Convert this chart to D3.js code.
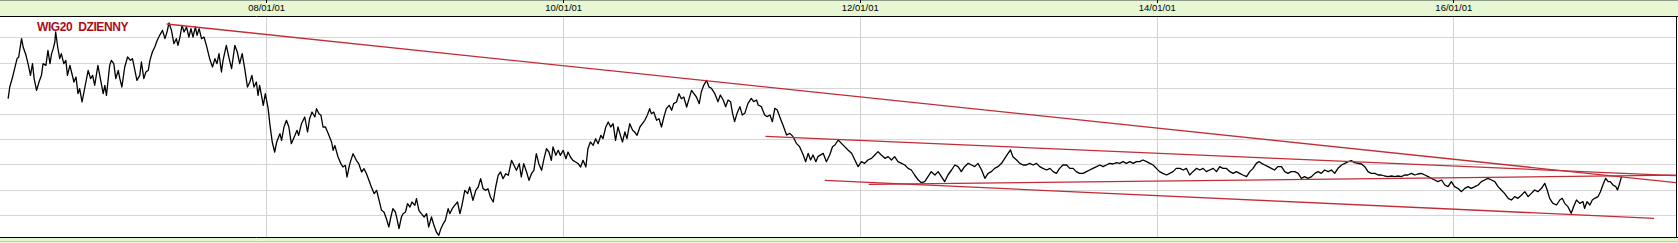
<!DOCTYPE html>
<html>
<head>
<meta charset="utf-8">
<script src="https://cdn.jsdelivr.net/npm/d3@7"></script>
<style>
  html, body { margin: 0; padding: 0; background: #fff; overflow: hidden; }
  svg { display: block; }
</style>
</head>
<body>
<div id="chart"></div>
<script>
// WIG20 daily chart with trend lines

const title = "WIG20  DZIENNY";

// first session of the series, offsets below are in calendar days from it
const firstSession = "2006-04-06";

// [day offset, close]
const quotes = [
  [0,2948],[4,3088],[11,3208],[16,3308],[22,3428],[26,3448],[33,3668],[37,3568],[44,3468],[49,3368],
  [55,3228],[60,3368],[64,3188],[70,3048],[76,3148],[82,3228],[86,3368],[93,3348],[98,3528],[103,3368],
  [107,3488],[111,3548],[115,3628],[117,3748],[122,3568],[127,3428],[131,3488],[137,3368],[142,3408],[146,3228],
  [152,3348],[156,3268],[162,3148],[167,3208],[172,3008],[176,3068],[182,2908],[189,3088],[197,3288],[203,3188],
  [208,3228],[213,3108],[221,3348],[227,3188],[234,3008],[238,3108],[242,2988],[250,3348],[254,3408],[260,3368],
  [265,3188],[271,3288],[275,3188],[280,3088],[287,3328],[294,3448],[301,3408],[306,3428],[312,3288],[317,3168],
  [324,3228],[328,3388],[334,3188],[339,3268],[345,3288],[349,3408],[355,3508],[361,3568],[367,3648],[373,3708],
  [380,3768],[386,3668],[391,3748],[396,3856],[402,3768],[408,3608],[414,3668],[418,3588],[423,3688],[428,3828],
  [433,3748],[439,3808],[445,3688],[450,3788],[455,3688],[461,3808],[465,3708],[470,3788],[476,3668],[482,3688],
  [488,3588],[496,3428],[503,3328],[509,3428],[514,3368],[519,3488],[525,3268],[529,3408],[537,3588],[544,3428],
  [550,3308],[558,3588],[564,3508],[570,3368],[576,3488],[583,3288],[589,3088],[595,3148],[600,3228],[605,3088],
  [611,3148],[615,2988],[619,3108],[628,2868],[633,3008],[640,2828],[644,2648],[650,2428],[656,2308],[661,2428],
  [669,2528],[673,2448],[679,2608],[685,2688],[691,2608],[697,2408],[706,2508],[711,2568],[715,2508],[722,2648],
  [730,2728],[737,2548],[742,2708],[748,2788],[755,2728],[759,2828],[765,2768],[770,2748],[775,2608],[781,2608],
  [788,2528],[796,2428],[800,2328],[804,2388],[812,2248],[819,2168],[824,2128],[830,2148],[834,2008],[841,2168],
  [849,2288],[857,2208],[863,2168],[870,2068],[876,2108],[882,2048],[888,1968],[894,1888],[901,1808],[907,1848],
  [912,1748],[919,1608],[925,1588],[931,1508],[937,1408],[942,1528],[947,1628],[953,1588],[957,1508],[962,1388],
  [968,1528],[972,1568],[978,1588],[983,1688],[989,1648],[994,1708],[1001,1668],[1005,1748],[1011,1608],[1017,1568],
  [1024,1528],[1030,1568],[1035,1408],[1042,1528],[1048,1428],[1054,1348],[1060,1308],[1065,1388],[1071,1448],[1076,1488],
  [1083,1628],[1087,1568],[1093,1628],[1099,1668],[1106,1708],[1112,1568],[1117,1668],[1124,1848],[1131,1808],[1136,1888],
  [1144,1728],[1151,1848],[1157,1888],[1163,1988],[1169,1868],[1176,1848],[1181,1868],[1187,1768],[1194,1708],[1200,1888],
  [1206,2028],[1212,2068],[1218,1988],[1225,2048],[1231,2028],[1239,2208],[1245,2148],[1251,2088],[1258,2168],[1263,2008],
  [1269,2168],[1276,2068],[1282,1968],[1288,2048],[1294,2088],[1300,2288],[1306,2168],[1313,2088],[1318,2208],[1325,2348],
  [1331,2308],[1337,2208],[1341,2368],[1348,2268],[1354,2328],[1359,2268],[1366,2328],[1373,2228],[1378,2308],[1384,2248],
  [1390,2208],[1397,2188],[1403,2168],[1409,2128],[1415,2208],[1422,2128],[1427,2348],[1433,2428],[1440,2388],[1446,2468],
  [1452,2408],[1459,2508],[1464,2468],[1471,2608],[1477,2668],[1483,2608],[1489,2648],[1495,2448],[1501,2608],[1507,2508],
  [1512,2428],[1518,2548],[1523,2468],[1530,2648],[1537,2568],[1542,2548],[1548,2508],[1555,2608],[1561,2648],[1567,2688],
  [1573,2748],[1579,2828],[1583,2768],[1589,2788],[1596,2688],[1602,2708],[1608,2608],[1614,2728],[1620,2828],[1627,2868],
  [1633,2808],[1638,2888],[1645,2908],[1651,3008],[1657,2948],[1663,2968],[1670,2848],[1676,2948],[1682,3048],[1688,3008],
  [1694,2968],[1701,2888],[1706,3028],[1712,3108],[1719,3168],[1725,3088],[1731,3072],[1739,3012],[1747,2912],[1753,2992],
  [1760,2932],[1766,2852],[1772,2932],[1778,2912],[1783,2772],[1788,2672],[1794,2772],[1801,2852],[1807,2752],[1813,2772],
  [1821,2892],[1829,2952],[1835,2912],[1842,2932],[1846,2872],[1854,2852],[1862,2752],[1868,2732],[1875,2752],[1881,2672],
  [1887,2832],[1893,2812],[1899,2732],[1907,2632],[1916,2512],[1924,2532],[1932,2492],[1940,2412],[1948,2372],[1957,2272],
  [1963,2192],[1969,2292],[1975,2212],[1981,2272],[1988,2192],[1993,2252],[2006,2292],[2014,2192],[2022,2272],[2029,2372],
  [2035,2392],[2043,2452],[2051,2412],[2059,2372],[2067,2332],[2076,2292],[2084,2212],[2092,2132],[2100,2192],[2108,2172],
  [2116,2212],[2125,2232],[2133,2272],[2141,2312],[2149,2272],[2158,2232],[2166,2252],[2174,2212],[2182,2252],[2190,2192],
  [2199,2172],[2207,2152],[2215,2112],[2223,2092],[2231,2032],[2240,1972],[2248,1940],[2256,1952],[2264,2012],[2272,2072],
  [2281,2032],[2289,2072],[2297,2012],[2305,1952],[2313,2032],[2322,2092],[2330,2152],[2338,2132],[2346,2072],[2354,2132],
  [2363,2172],[2371,2152],[2379,2132],[2387,2172],[2396,2092],[2404,1992],[2412,2052],[2420,2072],[2428,2112],[2436,2132],
  [2445,2172],[2453,2232],[2461,2292],[2467,2332],[2473,2252],[2482,2212],[2490,2172],[2498,2152],[2506,2152],[2514,2172],
  [2523,2152],[2531,2172],[2539,2132],[2547,2112],[2556,2092],[2564,2112],[2572,2072],[2580,2052],[2588,2112],[2596,2152],
  [2605,2152],[2613,2112],[2621,2112],[2629,2072],[2637,2052],[2646,2052],[2654,2072],[2662,2092],[2670,2112],[2679,2132],
  [2687,2152],[2695,2132],[2703,2152],[2711,2172],[2719,2164],[2728,2180],[2736,2172],[2744,2192],[2752,2172],[2761,2192],
  [2769,2172],[2777,2192],[2785,2192],[2793,2212],[2802,2192],[2810,2172],[2818,2152],[2826,2112],[2834,2072],[2842,2052],
  [2851,2032],[2859,2052],[2867,2072],[2875,2112],[2884,2112],[2892,2092],[2900,2112],[2908,2032],[2916,2072],[2925,2112],
  [2933,2092],[2941,2112],[2949,2072],[2957,2092],[2966,2112],[2974,2072],[2982,2132],[2990,2112],[2998,2112],[3007,2072],
  [3015,2052],[3023,2072],[3031,2052],[3039,2032],[3048,2012],[3056,2072],[3064,2112],[3072,2172],[3079,2192],[3085,2172],
  [3093,2152],[3101,2132],[3109,2112],[3117,2092],[3125,2132],[3134,2132],[3142,2072],[3150,2052],[3158,2072],[3167,2072],
  [3175,2052],[3183,1992],[3191,2012],[3199,1992],[3208,2012],[3216,2052],[3224,2072],[3232,2052],[3240,2092],[3249,2072],
  [3257,2092],[3265,2052],[3273,2112],[3282,2152],[3290,2172],[3298,2192],[3306,2204],[3314,2180],[3322,2172],[3331,2164],
  [3339,2132],[3347,2072],[3355,2052],[3364,2052],[3372,2032],[3380,2032],[3388,2020],[3396,2012],[3405,2020],[3413,2012],
  [3421,2020],[3429,2012],[3437,2032],[3445,2032],[3454,2052],[3462,2032],[3470,2044],[3478,2052],[3487,2032],[3495,2012],
  [3503,1992],[3511,1972],[3519,1952],[3528,1972],[3536,1912],[3544,1892],[3552,1952],[3560,1892],[3568,1872],[3577,1832],
  [3585,1872],[3593,1892],[3601,1872],[3610,1892],[3618,1912],[3626,1952],[3634,1972],[3642,1992],[3651,1972],[3659,1952],
  [3667,1892],[3675,1852],[3683,1812],[3692,1752],[3700,1732],[3708,1772],[3716,1752],[3725,1792],[3733,1832],[3741,1772],
  [3749,1812],[3757,1852],[3765,1832],[3774,1872],[3782,1932],[3788,1852],[3794,1752],[3802,1692],[3811,1672],[3819,1732],
  [3825,1752],[3831,1692],[3839,1652],[3847,1572],[3853,1652],[3860,1732],[3868,1692],[3876,1712],[3880,1632],[3886,1712],
  [3893,1672],[3899,1732],[3905,1752],[3913,1772],[3919,1832],[3925,1912],[3932,1992],[3938,1952],[3943,1952],[3950,1912],
  [3957,1892],[3961,1852],[3965,1912],[3971,2012]
];

// trend lines: [[day offset, level], [day offset, level]]
const trendLines = [
  [[390, 3844], [4106, 1940]],
  [[1864, 2496], [4106, 2024]],
  [[2118, 1920], [4106, 2030]],
  [[2010, 1968], [4051, 1512]]
];

// horizontal grid levels and date ticks
const gridLevels = [1550, 1855, 2160, 2465, 2770, 3075, 3380, 3685];
const tickDates = ["2008-01-01", "2010-01-01", "2012-01-01", "2014-01-01", "2016-01-01"];
const xDomain = ["2006-03-17", "2017-07-02"];
const yDomain = [1288, 3940];

const WIDTH = 1678;
const HEIGHT = 243;
const plot = { left: 0, right: 1676, top: 16, bottom: 237 };

const parse = d3.utcParse("%Y-%m-%d");
const fmt = d3.utcFormat("%y/%m/%d");
const base = parse(firstSession);
const dayToDate = d => d3.utcDay.offset(base, d);

const x = d3.scaleUtc()
  .domain(xDomain.map(parse))
  .range([plot.left, plot.right]);

const y = d3.scaleLinear()
  .domain(yDomain)
  .range([plot.bottom, plot.top]);

const crisp = v => Math.round(v) + 0.5;

const svg = d3.select("#chart")
  .append("svg")
  .attr("width", WIDTH)
  .attr("height", HEIGHT);

svg.append("rect").attr("width", WIDTH).attr("height", HEIGHT).attr("fill", "#fff");

// header / footer bands
svg.append("rect")
  .attr("x", 0).attr("y", 0)
  .attr("width", WIDTH).attr("height", plot.top)
  .attr("fill", "#e7f7d4");
svg.append("rect")
  .attr("x", 0).attr("y", plot.bottom)
  .attr("width", WIDTH).attr("height", HEIGHT - plot.bottom)
  .attr("fill", "#e4f5d0");
svg.append("line")
  .attr("x1", 0).attr("x2", WIDTH)
  .attr("y1", 0.5).attr("y2", 0.5)
  .attr("stroke", "#8d9a86");
svg.append("line")
  .attr("x1", 0).attr("x2", WIDTH)
  .attr("y1", HEIGHT - 1.5).attr("y2", HEIGHT - 1.5)
  .attr("stroke", "#b3d9a2");

svg.append("defs").append("clipPath")
  .attr("id", "clip")
  .append("rect")
  .attr("x", plot.left).attr("y", plot.top)
  .attr("width", plot.right - plot.left).attr("height", plot.bottom - plot.top);

// grid
svg.append("g")
  .selectAll("line")
  .data(gridLevels)
  .join("line")
  .attr("x1", plot.left).attr("x2", plot.right)
  .attr("y1", d => crisp(y(d))).attr("y2", d => crisp(y(d)))
  .attr("stroke", "#d6d6d6");

const ticks = tickDates.map(parse);

svg.append("g")
  .selectAll("line")
  .data(ticks)
  .join("line")
  .attr("x1", d => crisp(x(d))).attr("x2", d => crisp(x(d)))
  .attr("y1", plot.top).attr("y2", plot.bottom)
  .attr("stroke", "#d0d0d0");

// top axis
const axis = svg.append("g");
axis.selectAll("line")
  .data(ticks)
  .join("line")
  .attr("x1", d => crisp(x(d))).attr("x2", d => crisp(x(d)))
  .attr("y1", 0).attr("y2", 3)
  .attr("stroke", "#000");
axis.selectAll("text")
  .data(ticks)
  .join("text")
  .attr("x", d => x(d) + 0.5)
  .attr("y", 11)
  .attr("text-anchor", "middle")
  .attr("font-family", "'Liberation Sans', Arial, sans-serif")
  .attr("font-size", 9.5)
  .attr("fill", "#000")
  .text(d => fmt(d));

// price line
const line = d3.line()
  .x(d => x(dayToDate(d[0])))
  .y(d => y(d[1]));

svg.append("path")
  .datum(quotes)
  .attr("clip-path", "url(#clip)")
  .attr("fill", "none")
  .attr("stroke", "#000")
  .attr("stroke-width", 1.3)
  .attr("stroke-linejoin", "round")
  .attr("d", line);

// trend lines
svg.append("g")
  .attr("clip-path", "url(#clip)")
  .selectAll("path")
  .data(trendLines)
  .join("path")
  .attr("fill", "none")
  .attr("stroke", "#c22c36")
  .attr("stroke-width", 1.3)
  .attr("d", line);

// frame
svg.append("line")
  .attr("x1", 0).attr("x2", WIDTH)
  .attr("y1", plot.top + 0.5).attr("y2", plot.top + 0.5)
  .attr("stroke", "#000");
svg.append("line")
  .attr("x1", 0).attr("x2", WIDTH)
  .attr("y1", plot.bottom + 0.5).attr("y2", plot.bottom + 0.5)
  .attr("stroke", "#000");
svg.append("line")
  .attr("x1", plot.right + 0.5).attr("x2", plot.right + 0.5)
  .attr("y1", plot.top).attr("y2", plot.bottom)
  .attr("stroke", "#000");

// title
svg.append("text")
  .attr("x", 37)
  .attr("y", 31)
  .attr("font-family", "'Liberation Sans', Arial, sans-serif")
  .attr("font-size", 12)
  .attr("font-weight", "bold")
  .attr("letter-spacing", "-0.4px")
  .attr("fill", "#a80e1a")
  .style("white-space", "pre")
  .text(title);
</script>
</body>
</html>
